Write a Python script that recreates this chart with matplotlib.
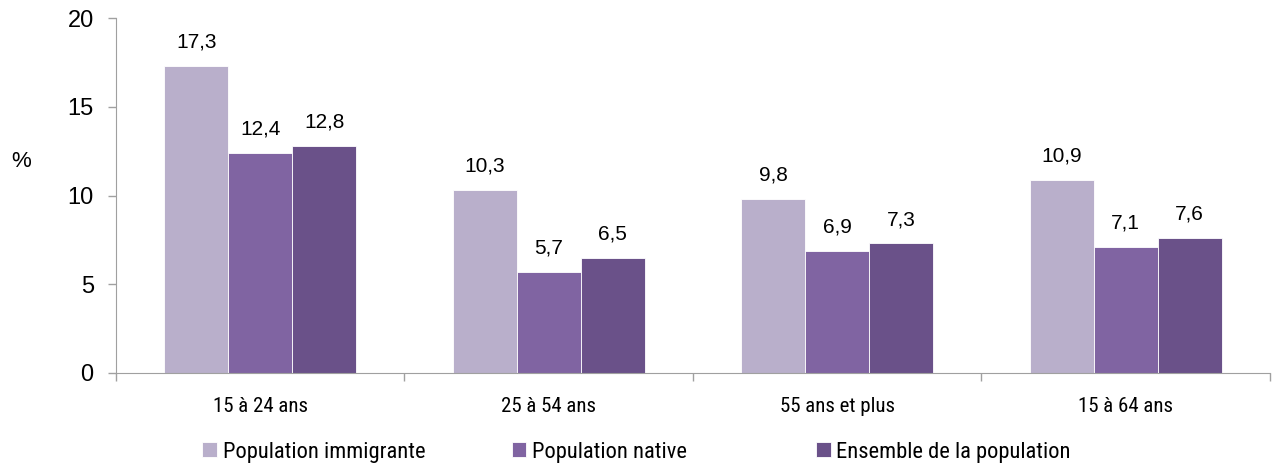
import numpy as np
import matplotlib.pyplot as plt

categories = ["15 à 24 ans", "25 à 54 ans", "55 ans et plus", "15 à 64 ans"]
series_names = ["Population immigrante", "Population native", "Ensemble de la population"]
immigrante = [17.3, 10.3, 9.8, 10.9]
native = [12.4, 5.7, 6.9, 7.1]
ensemble = [12.8, 6.5, 7.3, 7.6]
colors = ["#B9AFCB", "#8064A2", "#6A5189"]

narrow = ["Roboto Condensed", "Liberation Sans", "DejaVu Sans"]
regular = ["Liberation Sans", "DejaVu Sans"]

fig = plt.figure(figsize=(12.73, 4.68), dpi=100)
ax = fig.add_axes([0.0911, 0.203, 0.9065, 0.7585])

x = np.arange(len(categories))
w = 0.222
handles = []
for i, (vals, c, name) in enumerate(zip([immigrante, native, ensemble], colors, series_names)):
    pos = x + (i - 1) * w
    b = ax.bar(pos, vals, width=w, color=c, edgecolor="white", linewidth=0.6, label=name)
    handles.append(b)
    for p, v in zip(pos, vals):
        ax.text(p, v + 0.8, f"{v:.1f}".replace(".", ","), ha="center", va="bottom",
                fontsize=15, family=regular)

ax.set_xlim(-0.5, len(categories) - 0.5)
ax.set_ylim(0, 20)
ax.set_yticks([0, 5, 10, 15, 20])
ax.set_yticklabels(["0", "5", "10", "15", "20"], family=regular, fontsize=17)
ax.set_xticks(x)
ax.set_xticklabels(categories, family=narrow, fontsize=15)
ax.tick_params(axis="x", length=0, pad=17)
ax.set_xticks(np.arange(-0.5, len(categories)), minor=True)
ax.tick_params(axis="x", which="minor", length=6, color="#A0A0A0", width=1)
ax.tick_params(axis="y", length=6, color="#A0A0A0", width=1, pad=10)

for s in ["top", "right"]:
    ax.spines[s].set_visible(False)
for s in ["left", "bottom"]:
    ax.spines[s].set_color("#A0A0A0")

fig.text(0.009, 0.655, "%", fontsize=16, family=regular, ha="left", va="center")

# legend entries in equal-width columns, like the original
legend_x = [0.159, 0.402, 0.641]
for h, name, lx in zip(handles, series_names, legend_x):
    fig.legend(handles=[h], labels=[name], loc="center left",
               bbox_to_anchor=(lx, 0.034), frameon=False, prop={"family": narrow, "size": 16.2},
               handlelength=0.65, handleheight=0.65, handletextpad=0.25,
               borderpad=0, borderaxespad=0)

fig.savefig("out.png", dpi=100)
